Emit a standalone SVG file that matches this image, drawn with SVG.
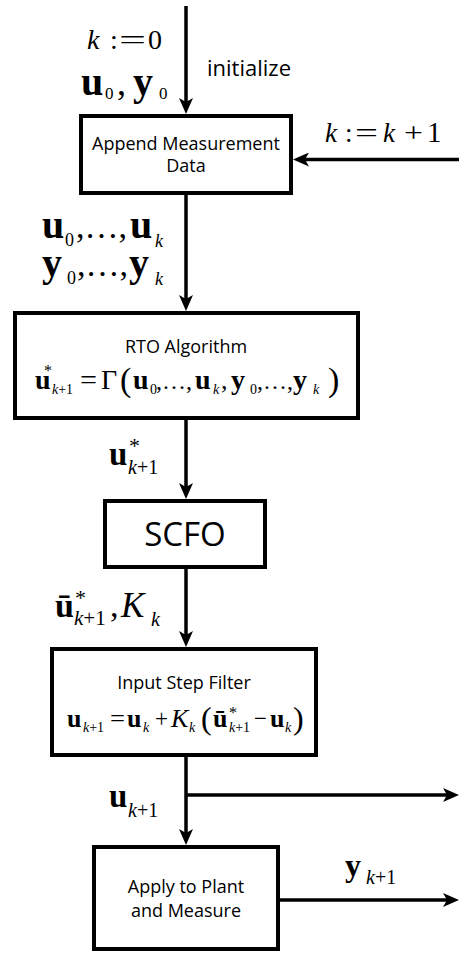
<svg xmlns="http://www.w3.org/2000/svg" width="459" height="953" viewBox="0 0 459 953">
<defs>
<style>
.box{fill:#fff;stroke:#000;stroke-width:4}
.ln{fill:none;stroke:#000;stroke-width:3.5}
.t{font-family:"Open Sans","Liberation Sans",sans-serif;font-size:18px;fill:#000;text-anchor:middle}
.m{font-family:"Liberation Serif","Times New Roman",serif;fill:#000}
.b{font-weight:bold}
.i{font-style:italic}
</style>
<marker id="ah" markerUnits="userSpaceOnUse" viewBox="0 0 16 14" markerWidth="16" markerHeight="14" refX="8" refY="7" orient="auto">
<path d="M0,0 L16,7 L0,14 L4,7 Z" fill="#000"/>
</marker>
</defs>
<rect width="459" height="953" fill="#fff"/>

<g id="connectors">
<line class="ln" x1="186" y1="6" x2="186" y2="106" marker-end="url(#ah)"/>
<line class="ln" x1="459" y1="159.5" x2="301" y2="159.5" marker-end="url(#ah)"/>
<line class="ln" x1="186" y1="195" x2="186" y2="303" marker-end="url(#ah)"/>
<line class="ln" x1="186" y1="420" x2="186" y2="491" marker-end="url(#ah)"/>
<line class="ln" x1="186" y1="569" x2="186" y2="639" marker-end="url(#ah)"/>
<line class="ln" x1="186" y1="757" x2="186" y2="837" marker-end="url(#ah)"/>
<line class="ln" x1="186" y1="795" x2="451" y2="795" marker-end="url(#ah)"/>
<line class="ln" x1="280" y1="900" x2="451" y2="900" marker-end="url(#ah)"/>
</g>

<g id="node-append">
<rect class="box" x="81" y="116" width="210" height="77"/>
<text class="t" x="186" y="150">Append Measurement</text>
<text class="t" x="186" y="172">Data</text>
</g>

<g id="node-rto">
<rect class="box" x="15" y="313" width="343" height="105"/>
<text class="t" x="186" y="353">RTO Algorithm</text>
<text class="m" font-size="28"><tspan class="b" x="35" y="389">u</tspan><tspan x="44" y="376" font-size="16">*</tspan><tspan class="i" x="52" y="394" font-size="14">k</tspan><tspan y="394" font-size="14">+1</tspan></text>
<text class="m" x="80" y="389" font-size="28" textLength="17" lengthAdjust="spacingAndGlyphs">=</text>
<text class="m" font-size="28"><tspan x="101" y="389">Γ</tspan><tspan x="120" y="391" font-size="34">(</tspan><tspan class="b" x="133" y="389">u</tspan><tspan x="150" y="394" font-size="14">0</tspan><tspan x="156" y="389" font-size="24">,…,</tspan><tspan class="b" x="195" y="389">u</tspan><tspan class="i" x="213" y="394" font-size="14">k</tspan><tspan x="221" y="389" font-size="26">,</tspan><tspan class="b" x="231" y="389">y</tspan><tspan x="250" y="394" font-size="14">0</tspan><tspan x="257" y="389" font-size="24">,…,</tspan><tspan class="b" x="293" y="389">y</tspan><tspan class="i" x="313" y="394" font-size="14">k</tspan><tspan x="328" y="391" font-size="34">)</tspan></text>
</g>

<g id="node-scfo">
<rect class="box" x="105" y="501" width="160" height="66"/>
<text class="t" x="185" y="546" style="font-size:33px">SCFO</text>
</g>

<g id="node-filter">
<rect class="box" x="52" y="649" width="264" height="106"/>
<text class="t" x="184" y="689">Input Step Filter</text>
<text class="m" font-size="26"><tspan class="b" x="67" y="727">u</tspan><tspan class="i" x="83" y="732" font-size="14">k</tspan><tspan y="732" font-size="14">+1</tspan></text>
<text class="m" x="110" y="727" font-size="26" textLength="15" lengthAdjust="spacingAndGlyphs">=</text>
<text class="m" font-size="26"><tspan class="b" x="127" y="727">u</tspan><tspan class="i" x="143" y="732" font-size="14">k</tspan></text>
<text class="m" x="155" y="727" font-size="26" textLength="13" lengthAdjust="spacingAndGlyphs">+</text>
<text class="m" font-size="26"><tspan class="i" x="171" y="727">K</tspan><tspan class="i" x="189" y="732" font-size="14">k</tspan><tspan x="201" y="729" font-size="32">(</tspan><tspan class="b" x="213" y="727">ū</tspan><tspan x="229" y="718" font-size="16">*</tspan><tspan class="i" x="229" y="732" font-size="14">k</tspan><tspan y="732" font-size="14">+1</tspan></text>
<text class="m" x="254" y="727" font-size="26" textLength="13" lengthAdjust="spacingAndGlyphs">−</text>
<text class="m" font-size="26"><tspan class="b" x="270" y="727">u</tspan><tspan class="i" x="285" y="732" font-size="14">k</tspan><tspan x="293" y="729" font-size="32">)</tspan></text>
</g>

<g id="node-plant">
<rect class="box" x="94" y="847" width="184" height="102"/>
<text class="t" x="186" y="893">Apply to Plant</text>
<text class="t" x="186" y="917">and Measure</text>
</g>

<g id="labels">
<g id="lbl-k0">
<text class="m" font-size="28"><tspan class="i" x="87" y="49">k</tspan><tspan x="110" y="49">:</tspan></text>
<text class="m" x="119" y="49" font-size="28" textLength="27" lengthAdjust="spacingAndGlyphs">=</text>
<text class="m" x="148" y="49" font-size="28">0</text>
</g>
<text id="lbl-u0y0" class="m" font-size="40"><tspan class="b" x="81" y="95">u</tspan><tspan x="105" y="99" font-size="17">0</tspan><tspan x="117" y="95" font-size="36">,</tspan><tspan class="b" x="133" y="95">y</tspan><tspan x="159" y="99" font-size="17">0</tspan></text>
<text id="lbl-init" class="t" x="207" y="76" style="font-size:22px;text-anchor:start">initialize</text>
<g id="lbl-kinc">
<text class="m" font-size="27"><tspan class="i" x="325" y="142">k</tspan><tspan x="345" y="142">:</tspan></text>
<text class="m" x="355" y="142" font-size="27" textLength="23" lengthAdjust="spacingAndGlyphs">=</text>
<text class="m i" x="383" y="142" font-size="27">k</text>
<text class="m" x="404" y="142" font-size="27" textLength="19" lengthAdjust="spacingAndGlyphs">+</text>
<text class="m" x="427" y="142" font-size="29">1</text>
</g>
<text id="lbl-useq" class="m" font-size="40"><tspan class="b" x="42" y="238">u</tspan><tspan x="65" y="246" font-size="18">0</tspan><tspan x="76" y="238" font-size="34">,…,</tspan><tspan class="b" x="130" y="238">u</tspan><tspan class="i" x="155" y="247" font-size="18">k</tspan></text>
<text id="lbl-yseq" class="m" font-size="40"><tspan class="b" x="42" y="276">y</tspan><tspan x="67" y="284" font-size="18">0</tspan><tspan x="77" y="276" font-size="34">,…,</tspan><tspan class="b" x="129" y="276">y</tspan><tspan class="i" x="155" y="285" font-size="18">k</tspan></text>
<text id="lbl-ustar" class="m" font-size="33"><tspan class="b" x="109" y="465">u</tspan><tspan x="129" y="453" font-size="22">*</tspan><tspan class="i" x="128" y="474" font-size="20">k</tspan><tspan y="474" font-size="20">+1</tspan></text>
<text id="lbl-ubarK" class="m" font-size="34"><tspan class="b" x="55" y="617">ū</tspan><tspan x="75" y="605" font-size="22">*</tspan><tspan class="i" x="74" y="625" font-size="21">k</tspan><tspan y="625" font-size="21">+1</tspan><tspan x="110" y="617">,</tspan><tspan class="i" x="121" y="617" font-size="35">K</tspan><tspan class="i" x="151" y="626" font-size="20">k</tspan></text>
<text id="lbl-unext" class="m" font-size="33"><tspan class="b" x="109" y="807">u</tspan><tspan class="i" x="128" y="817" font-size="20">k</tspan><tspan y="817" font-size="20">+1</tspan></text>
<text id="lbl-ynext" class="m" font-size="32"><tspan class="b" x="345" y="876">y</tspan><tspan class="i" x="366" y="884" font-size="20">k</tspan><tspan y="884" font-size="20">+1</tspan></text>
</g>
</svg>
